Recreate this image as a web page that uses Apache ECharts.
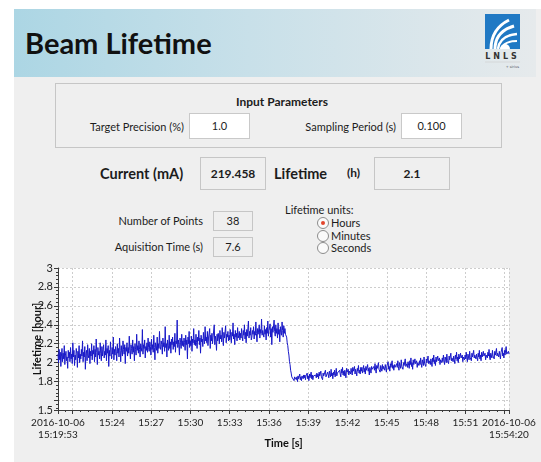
<!DOCTYPE html>
<html>
<head>
<meta charset="utf-8">
<script src="https://cdn.jsdelivr.net/npm/echarts@6/dist/echarts.min.js"></script>
<style>
    body{margin:0;width:541px;height:462px;background:#fff;overflow:hidden;position:relative;
        font-family:Lato,"Noto Sans",sans-serif;color:#1c1c1c;}
    .abs{position:absolute;white-space:nowrap;}
    .panel{left:14px;top:9px;width:527px;height:453px;background:#efefef;}
    .head{left:14px;top:9px;width:522px;height:68px;background:linear-gradient(to right,#acd6e4,#c8e0e9 45%,#e6eaec);}
    .title{left:25px;top:28px;font-size:29px;line-height:29px;font-weight:bold;color:#111;}
    .lbl{font-size:11px;height:16px;line-height:16px;}
    .box{border:1px solid #c6c6c6;box-sizing:border-box;text-align:center;font-size:11px;}
    .input{background:#fff;border-color:#c9c9c9;}
    .big{font-size:14.5px;font-weight:bold;height:20px;line-height:20px;}
    .radio{width:12px;height:12px;border-radius:50%;border:1px solid #8c8c8c;box-sizing:border-box;background:#fafafa;}
    .radio.on::after{content:"";position:absolute;left:3px;top:3px;width:4px;height:4px;border-radius:50%;background:#e2452c;}
    #chart_line{left:14px;top:258px;width:527px;height:204px;}
</style>
</head>
<body>
<div class="abs panel"></div>
<div class="abs head"></div>
<div class="abs title">Beam Lifetime</div>
<svg class="abs" style="left:484px;top:14px" width="37" height="60" viewBox="0 0 37 60">
    <rect x="1" y="0" width="35" height="35" fill="#2079c4"/>
    <path d="M7 35 C7 22 13 12 25 6" stroke="#fff" stroke-width="3" fill="none"/>
    <path d="M11 35 C11 24 17 16 30 12" stroke="#fff" stroke-width="3" fill="none"/>
    <path d="M14 35 C15 27 21 21 33 20" stroke="#fff" stroke-width="2.5" fill="none"/>
    <path d="M17 35 C19 30 25 27 33 27" stroke="#fff" stroke-width="2" fill="none"/>
    <path d="M16 35 a5 5 0 0 1 10 0" fill="#fff"/>
    <text x="18.5" y="45" font-size="8" font-weight="bold" text-anchor="middle" fill="#333" letter-spacing="3" font-family="DejaVu Sans">LNLS</text>
    <line x1="1" y1="48" x2="36" y2="48" stroke="#ccc" stroke-width="0.6"/>
    <text x="35" y="54" font-size="3.5" text-anchor="end" fill="#556" font-family="DejaVu Sans">+ sirius</text>
</svg>

<div class="abs box" style="left:55px;top:83px;width:447px;height:65px;"></div>
<div class="abs lbl" style="left:182px;top:94px;width:200px;text-align:center;font-weight:bold;font-size:12px;">Input Parameters</div>
<div class="abs lbl" style="right:357px;top:119px;">Target Precision (%)</div>
<div class="abs box input" style="left:189px;top:113px;width:61px;height:26px;line-height:24px;">1.0</div>
<div class="abs lbl" style="right:145px;top:119px;">Sampling Period (s)</div>
<div class="abs box input" style="left:401px;top:113px;width:61px;height:26px;line-height:24px;">0.100</div>

<div class="abs big" style="left:100px;top:164px;">Current (mA)</div>
<div class="abs box" style="left:200px;top:157px;width:66px;height:33px;line-height:31px;font-weight:bold;font-size:12px;">219.458</div>
<div class="abs big" style="left:274px;top:164px;">Lifetime</div>
<div class="abs" style="left:347px;top:165px;font-size:12px;font-weight:bold;line-height:16px;">(h)</div>
<div class="abs box" style="left:374px;top:157px;width:76px;height:33px;line-height:31px;font-weight:bold;font-size:12px;">2.1</div>

<div class="abs lbl" style="right:338px;top:213px;">Number of Points</div>
<div class="abs box" style="left:213px;top:211px;width:40px;height:20px;line-height:18px;">38</div>
<div class="abs lbl" style="right:338px;top:239px;">Aquisition Time (s)</div>
<div class="abs box" style="left:213px;top:237px;width:40px;height:20px;line-height:18px;">7.6</div>

<div class="abs lbl" style="left:285px;top:202px;">Lifetime units:</div>
<div class="abs radio on" style="left:317px;top:217px;"></div>
<div class="abs lbl" style="left:331px;top:215px;">Hours</div>
<div class="abs radio" style="left:317px;top:230px;"></div>
<div class="abs lbl" style="left:331px;top:228px;">Minutes</div>
<div class="abs radio" style="left:317px;top:242px;"></div>
<div class="abs lbl" style="left:331px;top:240px;">Seconds</div>

<div class="abs" id="chart_line"></div>

<script>
    // time window of the acquisition, 2016-10-06
    const dateText = '2016-10-06';
    const startTime = '15:19:53';
    const endTime = '15:54:20';
    // dashed grid / major tick times and labelled times
    const xGridTimes = ['15:21','15:24','15:27','15:30','15:33','15:36','15:39','15:42','15:45','15:48','15:51','15:54'];
    const xLabelTimes = ['15:24','15:27','15:30','15:33','15:36','15:39','15:42','15:45','15:48','15:51'];
    const yGridValues = [1.5, 1.6, 1.8, 2, 2.2, 2.4, 2.6, 2.8, 3];
    const yLabelValues = [1.5, 1.8, 2, 2.2, 2.4, 2.6, 2.8, 3];

    // lifetime [hour], evenly sampled over the window: before the drop, the drop, after
    const lifetimeBefore = [
        2.09,2.00,2.14,2.03,2.11,1.96,2.07,2.15,2.01,2.10,2.04,2.18,1.98,2.08,2.12,2.02,2.06,1.94,2.13,2.05,
        2.11,2.01,2.16,2.04,2.09,1.99,2.21,2.06,2.13,1.97,2.08,2.03,2.15,2.10,1.95,2.12,2.05,2.18,2.00,2.09,
        2.04,2.14,2.07,2.23,2.01,2.11,2.06,2.17,1.93,2.10,2.13,2.02,2.19,2.08,2.05,2.15,1.99,2.12,2.07,2.20,
        2.03,2.13,2.09,2.18,2.01,2.14,2.06,2.25,2.11,1.98,2.16,2.08,2.12,2.04,2.21,2.10,2.02,2.17,2.07,2.14,
        2.19,2.05,2.12,2.08,2.24,2.02,2.15,2.10,2.18,1.96,2.13,2.07,2.22,2.11,2.04,2.16,2.09,2.27,2.03,2.14,
        2.08,2.17,2.12,2.02,2.20,2.10,2.15,2.06,2.26,2.13,2.01,2.18,2.11,2.07,2.23,2.14,2.09,2.19,1.99,2.16,
        2.12,2.21,2.07,2.16,2.10,2.28,2.13,2.04,2.19,2.15,2.09,2.24,2.11,2.17,2.02,2.20,2.14,2.08,2.30,2.13,
        2.18,2.10,2.23,2.14,2.06,2.20,2.16,2.12,2.35,2.09,2.19,2.15,2.24,2.05,2.17,2.13,2.21,2.11,2.26,2.16,
        2.12,2.22,2.17,2.08,2.25,2.14,2.19,2.11,2.29,2.16,2.03,2.21,2.18,2.13,2.27,2.10,2.20,2.15,2.33,2.17,
        2.14,2.23,2.19,2.09,2.26,2.17,2.21,2.12,2.38,2.16,2.20,2.06,2.24,2.18,2.13,2.29,2.15,2.22,2.10,2.25,
        2.19,2.27,2.14,2.22,2.17,2.31,2.11,2.23,2.20,2.45,2.16,2.24,2.19,2.08,2.26,2.21,2.15,2.30,2.18,2.23,
        2.17,2.26,2.21,2.13,2.29,2.19,2.24,2.04,2.27,2.20,2.33,2.16,2.23,2.18,2.28,2.12,2.25,2.21,2.36,2.19,
        2.24,2.18,2.30,2.21,2.15,2.27,2.23,2.34,2.19,2.26,2.10,2.29,2.22,2.25,2.17,2.32,2.24,2.20,2.38,2.23,
        2.27,2.21,2.33,2.18,2.26,2.24,2.36,2.15,2.29,2.23,2.31,2.20,2.27,2.25,2.40,2.19,2.28,2.24,2.13,2.30,
        2.23,2.31,2.26,2.20,2.34,2.25,2.29,2.22,2.37,2.27,2.18,2.32,2.26,2.24,2.39,2.21,2.30,2.27,2.33,2.23,
        2.29,2.24,2.35,2.27,2.21,2.32,2.28,2.42,2.25,2.30,2.19,2.34,2.27,2.31,2.23,2.37,2.26,2.29,2.33,2.24,
        2.31,2.26,2.36,2.28,2.23,2.34,2.29,2.40,2.25,2.32,2.21,2.35,2.28,2.30,2.44,2.26,2.33,2.29,2.37,2.24,
        2.27,2.34,2.30,2.38,2.25,2.33,2.29,2.43,2.31,2.22,2.36,2.30,2.28,2.40,2.26,2.35,2.31,2.46,2.29,2.34,
        2.32,2.27,2.39,2.30,2.35,2.24,2.37,2.31,2.44,2.28,2.34,2.33,2.41,2.27,2.36,2.19,2.38,2.32,2.30,2.45,
        2.33,2.28,2.40,2.31,2.36,2.26,2.42,2.30,2.35,2.22,2.38,2.32,2.29,2.43,2.34,2.27,2.39,2.31,2.36,2.30
    ];
    const lifetimeDrop = [2.29,2.27,2.21,2.18,2.12,2.08,2.01,1.98,1.92,1.89,1.85,1.83];
    const lifetimeAfter = [
        1.83,1.86,1.81,1.85,1.84,1.87,1.82,1.85,1.80,1.86,1.83,1.84,1.88,1.82,1.85,1.81,1.86,1.84,1.83,1.87,
        1.84,1.87,1.82,1.86,1.85,1.89,1.83,1.86,1.81,1.88,1.84,1.85,1.90,1.83,1.87,1.82,1.86,1.85,1.88,1.84,
        1.87,1.84,1.89,1.85,1.88,1.83,1.90,1.86,1.84,1.91,1.85,1.87,1.82,1.89,1.86,1.88,1.84,1.92,1.85,1.87,
        1.86,1.90,1.87,1.84,1.91,1.88,1.85,1.93,1.86,1.89,1.83,1.90,1.87,1.92,1.85,1.88,1.94,1.86,1.89,1.87,
        1.90,1.87,1.92,1.88,1.85,1.93,1.89,1.95,1.87,1.91,1.86,1.92,1.89,1.84,1.94,1.90,1.88,1.93,1.87,1.91,
        1.92,1.88,1.94,1.90,1.87,1.95,1.91,1.89,1.96,1.88,1.93,1.90,1.86,1.94,1.91,1.97,1.89,1.92,1.88,1.95,
        1.91,1.95,1.89,1.93,1.97,1.90,1.94,1.88,1.96,1.92,1.90,1.98,1.91,1.94,1.87,1.95,1.92,1.89,1.96,1.93,
        1.94,1.91,1.96,1.92,1.99,1.93,1.89,1.97,1.94,1.92,2.00,1.93,1.95,1.90,1.97,1.94,1.91,1.98,1.93,1.96,
        1.95,1.92,1.98,1.94,1.90,1.97,1.95,2.01,1.93,1.96,1.91,1.99,1.95,1.93,2.02,1.94,1.97,1.92,1.98,1.95,
        1.97,1.94,1.99,1.95,2.02,1.96,1.92,2.00,1.97,1.94,2.03,1.96,1.98,1.93,2.00,1.97,1.95,2.04,1.96,1.98,
        1.99,1.95,2.01,1.97,1.94,2.02,1.98,2.05,1.96,2.00,1.93,2.03,1.98,1.96,2.04,1.99,1.97,2.02,1.95,2.00,
        2.00,1.97,2.02,1.98,2.05,1.99,1.95,2.03,2.00,1.97,2.06,1.99,2.01,1.96,2.04,2.00,1.98,2.07,1.99,2.02,
        2.01,1.98,2.04,2.00,1.96,2.05,2.01,2.08,1.99,2.03,1.97,2.06,2.01,1.99,2.07,2.02,2.00,2.05,1.98,2.03,
        2.03,2.00,2.05,2.01,2.08,2.02,1.98,2.06,2.03,2.00,2.09,2.02,2.04,1.99,2.07,2.03,2.01,2.10,2.02,2.05,
        2.04,2.01,2.07,2.03,1.99,2.08,2.04,2.11,2.02,2.06,2.00,2.09,2.04,2.02,2.10,2.05,2.03,2.08,2.01,2.06,
        2.06,2.03,2.08,2.04,2.11,2.05,2.01,2.09,2.06,2.03,2.12,2.05,2.07,2.02,2.10,2.06,2.04,2.13,2.05,2.08,
        2.07,2.04,2.09,2.05,2.02,2.10,2.06,2.13,2.04,2.08,2.02,2.11,2.06,2.04,2.12,2.07,2.05,2.10,2.03,2.08,
        2.08,2.05,2.11,2.07,2.14,2.06,2.03,2.10,2.08,2.05,2.13,2.07,2.09,2.04,2.12,2.08,2.06,2.15,2.07,2.10,
        2.09,2.06,2.12,2.08,2.04,2.11,2.09,2.16,2.07,2.10,2.05,2.13,2.08,2.06,2.17,2.09,2.11,2.07,2.12,2.09
    ];

    function toSec(s){
        let p = s.split(':').map(Number);
        return p[0]*3600 + p[1]*60 + (p[2] || 0);
    }
    function pad(n){ return (n < 10 ? '0' : '') + n; }
    function fmt(v, withSec){
        let h = Math.floor(v/3600), m = Math.floor(v%3600/60), s = Math.round(v%60);
        return pad(h) + ':' + pad(m) + (withSec ? ':' + pad(s) : '');
    }

    let t0 = toSec(startTime), t1 = toSec(endTime);
    let values = lifetimeBefore.concat(lifetimeDrop, lifetimeAfter);
    let seriesData = values.map((v, i) => [t0 + i*(t1 - t0)/(values.length - 1), v]);

    let xMajor = [t0].concat(xGridTimes.map(toSec), [t1]);
    let xLabels = [t0].concat(xLabelTimes.map(toSec), [t1]);
    let xMinor = [];
    for (let s = toSec('15:18'); s <= t1; s += 36) {
        if (s >= t0 && (s - toSec('15:18')) % 180 !== 0) xMinor.push(s);
    }
    let yMinor = [];
    for (let k = 38; k <= 75; k++) {
        if (k % 5 !== 0) yMinor.push(+(k*0.04).toFixed(2));
    }

    let font = 'Lato, "Noto Sans", sans-serif';
    let axisCol = '#3a3a3a';
    let myChart = echarts.init(document.getElementById('chart_line'));
    let option = {
        animation: false,
        grid: {left: 44, right: 32, top: 10, bottom: 52, outerBoundsMode: 'none', containLabel: false,
            show: true, backgroundColor: '#fff', borderWidth: 0},
        xAxis: [{
            type: 'value', min: t0, max: t1, position: 'bottom',
            name: 'Time [s]', nameLocation: 'middle', nameGap: 28, nameMoveOverlap: false,
            nameTextStyle: {fontWeight: 'bold', fontSize: 11, color: '#111', fontFamily: font},
            axisLine: {onZero: false, lineStyle: {color: axisCol}},
            axisTick: {customValues: xMajor, length: 4, lineStyle: {color: axisCol}},
            axisLabel: {
                customValues: xLabels, fontSize: 10, color: '#222', fontFamily: font, margin: 7, lineHeight: 12,
                formatter: v => (v === t0 || v === t1) ? dateText + '\n' + fmt(v, true) : fmt(v, false)
            },
            splitLine: {show: true, lineStyle: {color: '#cdcdcd', type: [2, 2]}}
        }, {
            type: 'value', min: t0, max: t1, position: 'bottom',
            axisLine: {show: false}, axisLabel: {show: false}, splitLine: {show: false},
            axisTick: {customValues: xMinor, length: 2, lineStyle: {color: axisCol}}
        }],
        yAxis: [{
            type: 'value', min: 1.5, max: 3, position: 'left',
            name: 'Lifetime [hour]', nameLocation: 'middle', nameGap: 15, nameMoveOverlap: false,
            nameTextStyle: {fontWeight: 'bold', fontSize: 11, color: '#111', fontFamily: font},
            axisLine: {show: true, onZero: false, lineStyle: {color: axisCol}},
            axisTick: {show: true, customValues: yGridValues, length: 4, lineStyle: {color: axisCol}},
            axisLabel: {customValues: yLabelValues, fontSize: 11, color: '#222', fontFamily: font, margin: 5},
            splitLine: {show: true, lineStyle: {color: '#cdcdcd', type: [2, 2]}}
        }, {
            type: 'value', min: 1.5, max: 3, position: 'left',
            axisLine: {show: false}, axisLabel: {show: false}, splitLine: {show: false},
            axisTick: {show: true, customValues: yMinor, length: 2, lineStyle: {color: axisCol}}
        }],
        series: [{
            type: 'line', xAxisIndex: 0, yAxisIndex: 0,
            data: seriesData, showSymbol: false,
            lineStyle: {color: '#1818c8', width: 1}
        }]
    };
    myChart.setOption(option);
</script>
</body>
</html>
